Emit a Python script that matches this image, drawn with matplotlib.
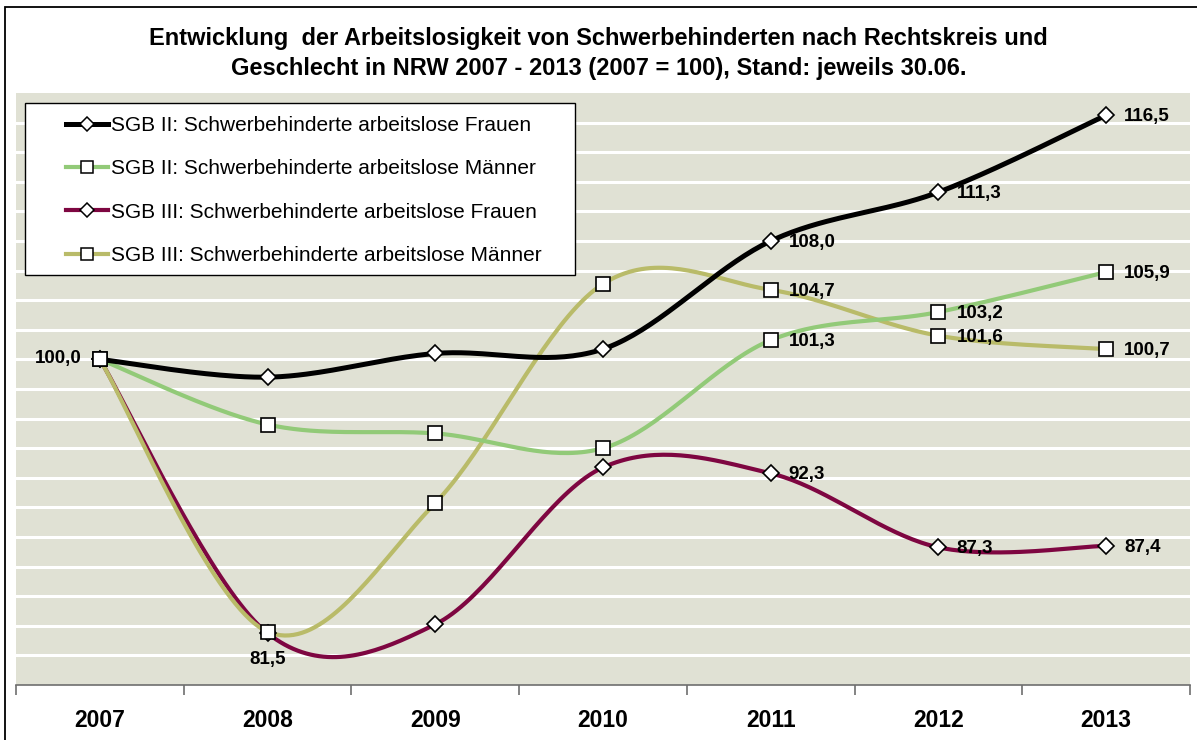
import numpy as np
import matplotlib
matplotlib.use("Agg")
import matplotlib.pyplot as plt
from matplotlib.lines import Line2D
from matplotlib.patches import Rectangle

# data (index 2007 = 100)
years = ["2007", "2008", "2009", "2010", "2011", "2012", "2013"]
sgb2_frauen = [100.0, 98.8, 100.4, 100.7, 108.0, 111.3, 116.5]
sgb2_maenner = [100.0, 95.6, 95.0, 94.0, 101.3, 103.2, 105.9]
sgb3_frauen = [100.0, 81.5, 82.1, 92.7, 92.3, 87.3, 87.4]
sgb3_maenner = [100.0, 81.6, 90.3, 105.1, 104.7, 101.6, 100.7]

labels = [
    "SGB II: Schwerbehinderte arbeitslose Frauen",
    "SGB II: Schwerbehinderte arbeitslose Männer",
    "SGB III: Schwerbehinderte arbeitslose Frauen",
    "SGB III: Schwerbehinderte arbeitslose Männer",
]
# which points carry a data label, and where
label_points = {
    0: [(0, "left"), (4, "right"), (5, "right"), (6, "right")],
    1: [(4, "right"), (5, "right"), (6, "right")],
    2: [(1, "below"), (4, "right"), (5, "right"), (6, "right")],
    3: [(4, "right"), (5, "right"), (6, "right")],
}

BG = "#E0E1D4"
COLORS = ["#000000", "#92CA78", "#7E0641", "#B9BB69"]
MARKERS = ["D", "s", "D", "s"]
WIDTHS = [3.6, 3.0, 3.0, 3.0]

W, H = 1197, 740


def smooth(xs, ys, n=40):
    # bezier smoothing similar to Excel's "smoothed line"
    pts = np.column_stack([xs, ys]).astype(float)
    out = [pts[0]]
    t = np.linspace(0, 1, n)[1:, None]
    for i in range(len(pts) - 1):
        p0 = pts[i - 1] if i > 0 else pts[i]
        p1, p2 = pts[i], pts[i + 1]
        p3 = pts[i + 2] if i + 2 < len(pts) else pts[i + 1]
        c1 = p1 + (p2 - p0) / 6
        c2 = p2 - (p3 - p1) / 6
        seg = (1 - t) ** 3 * p1 + 3 * (1 - t) ** 2 * t * c1 + 3 * (1 - t) * t ** 2 * c2 + t ** 3 * p2
        out.extend(seg)
    return np.array(out)


def fmt(v):
    return f"{v:.1f}".replace(".", ",")


plt.rcParams["font.family"] = ["Liberation Sans", "DejaVu Sans"]

fig = plt.figure(figsize=(W / 100, H / 100), dpi=100)
fig.patch.set_facecolor("white")

# outer chart frame (right and bottom edges run off the picture)
fig.patches.append(
    Rectangle((5 / W, -0.2), 1.2, 1.2 - 7 / H, transform=fig.transFigure,
              fill=False, edgecolor="#000000", linewidth=1.3)
)

ax = fig.add_axes([16 / W, (H - 685) / H, (1190 - 16) / W, (685 - 93) / H])
ax.set_facecolor(BG)
ax.set_xlim(-0.5, 6.5)
ax.set_ylim(78, 118)

for yv in np.arange(80, 117, 2):
    ax.axhline(yv, color="white", linewidth=2.2, zorder=1)

x = np.arange(len(years))
series = [sgb2_frauen, sgb2_maenner, sgb3_frauen, sgb3_maenner]
line_z = [6, 5, 3, 4]
for i, vals in enumerate(series):
    curve = smooth(x, vals)
    ax.plot(curve[:, 0], curve[:, 1], color=COLORS[i], linewidth=WIDTHS[i],
            solid_capstyle="round", zorder=line_z[i])
for i, vals in enumerate(series):
    ms = 8.2 if MARKERS[i] == "D" else 10.5
    ax.plot(x, vals, linestyle="none", marker=MARKERS[i], markersize=ms,
            markerfacecolor="white", markeredgecolor="black",
            markeredgewidth=1.2, zorder=10 + i)

for i, pts in label_points.items():
    vals = series[i]
    for idx, where in pts:
        txt = fmt(vals[idx])
        if where == "right":
            off, ha = (13, -1), "left"
        elif where == "left":
            off, ha = (-13, 1), "right"
        else:
            off, ha = (0, -19), "center"
        ax.annotate(txt, (idx, vals[idx]), xytext=off, textcoords="offset points",
                    ha=ha, va="center", fontsize=13.5, fontweight="bold", zorder=20)

for side in ["top", "right", "left"]:
    ax.spines[side].set_visible(False)
ax.spines["bottom"].set_color("#6E6E6E")
ax.spines["bottom"].set_linewidth(1.2)
ax.spines["bottom"].set_zorder(30)
ax.set_yticks([])
ax.set_xticks(x, years, fontsize=16.5, fontweight="bold")
ax.tick_params(axis="x", which="major", length=0, pad=17.5)
ax.set_xticks(np.arange(-0.5, 7, 1), minor=True)
ax.tick_params(axis="x", which="minor", length=7, width=1.2, color="#6E6E6E", direction="out")

fig.text(0.5, 1 - 38 / H, "Entwicklung  der Arbeitslosigkeit von Schwerbehinderten nach Rechtskreis und",
         ha="center", va="center", fontsize=17, fontweight="bold")
fig.text(0.5, 1 - 68 / H, "Geschlecht in NRW 2007 - 2013 (2007 = 100), Stand: jeweils 30.06.",
         ha="center", va="center", fontsize=17, fontweight="bold")

# legend box drawn separately so the padding can follow the reference
fig.patches.append(
    Rectangle((25 / W, 1 - 275 / H), 550 / W, 172 / H, transform=fig.transFigure,
              facecolor="white", edgecolor="black", linewidth=1.0, zorder=40)
)
handles = [
    Line2D([], [], color=COLORS[i], linewidth=WIDTHS[i], marker=MARKERS[i],
           markersize=(7 if MARKERS[i] == "D" else 9), markerfacecolor="white",
           markeredgecolor="black", markeredgewidth=1.1)
    for i in range(4)
]
leg = fig.legend(handles, labels, loc="upper left", bbox_to_anchor=(66 / W, 1 - 116 / H),
                 borderaxespad=0, borderpad=0, fontsize=15, frameon=False,
                 handlelength=2.0, handletextpad=0.15, labelspacing=1.17)
leg.set_zorder(50)

fig.savefig("out.png", dpi=100)
